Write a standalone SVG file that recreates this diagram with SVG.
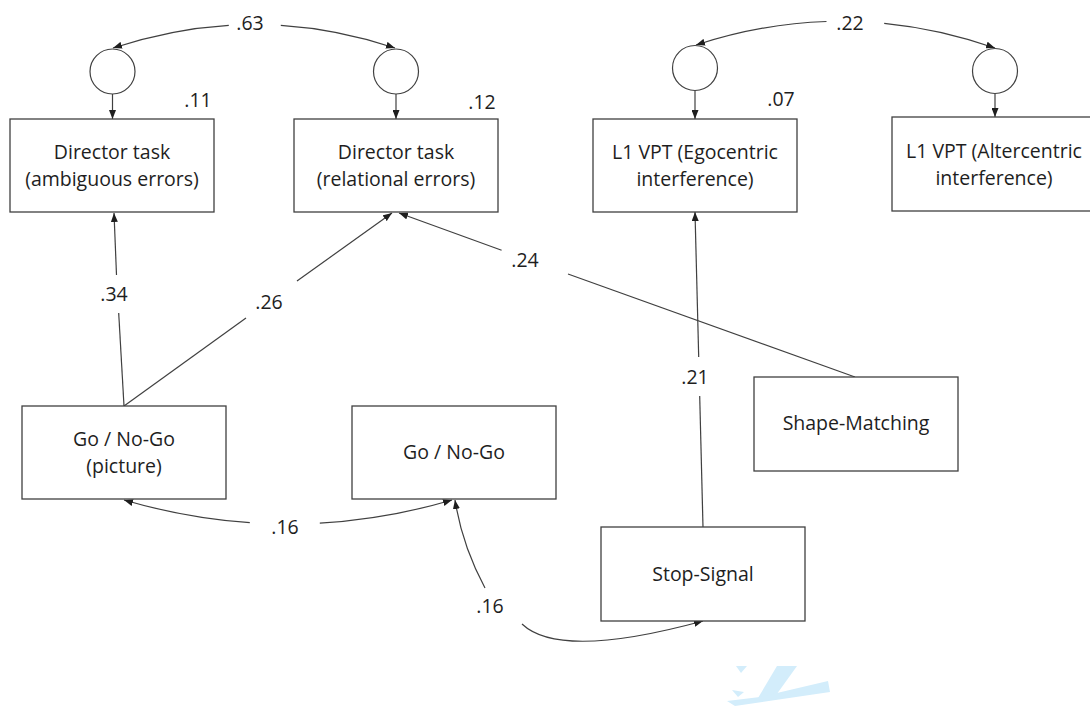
<svg xmlns="http://www.w3.org/2000/svg" width="1090" height="706" viewBox="0 0 1090 706">
<style>
.box{fill:#ffffff;stroke:#404040;stroke-width:1.3}
.circ{fill:#ffffff;stroke:#404040;stroke-width:1.2}
.t{font-family:"Open Sans","Liberation Sans",sans-serif;font-size:19.5px;fill:#1e1e1e;text-anchor:middle}
.c{fill:none;stroke:#404040;stroke-width:1.2}
.wm{fill:#d3edfb}
</style>
<defs>
<marker id="ah" viewBox="0 0 9 7" refX="9" refY="3.5" markerWidth="9" markerHeight="7" markerUnits="userSpaceOnUse" orient="auto">
<path d="M0,0 L9,3.5 L0,7 z" fill="#1e1e1e"/>
</marker>
</defs>
<rect width="1090" height="706" fill="#ffffff"/>

<g id="watermark">
<polygon class="wm" points="736,666 747,666 741,673"/>
<polygon class="wm" points="777,666 797,666 774,698 758,698"/>
<polygon class="wm" points="727,701 760,697 828,681 830,692 735,706"/>
<polygon class="wm" points="732,690 744,692 738,697"/>
</g>

<g id="connectors">
<line class="c" x1="112.5" y1="94" x2="112.5" y2="119" marker-end="url(#ah)"/>
<line class="c" x1="396" y1="94" x2="396" y2="119" marker-end="url(#ah)"/>
<line class="c" x1="695" y1="90.5" x2="695" y2="119" marker-end="url(#ah)"/>
<line class="c" x1="995" y1="93.5" x2="995" y2="117" marker-end="url(#ah)"/>
<path class="c" d="M228.8,25.3 Q170.8,28.9 113,48" marker-end="url(#ah)"/>
<path class="c" d="M280.8,25.4 Q338.3,29.1 395,48" marker-end="url(#ah)"/>
<path class="c" d="M826.5,21.5 Q761.4,23.6 696,45" marker-end="url(#ah)"/>
<path class="c" d="M884.2,23.3 Q939.7,28.7 995,48" marker-end="url(#ah)"/>
<line class="c" x1="124" y1="406" x2="118.7" y2="313"/>
<line class="c" x1="116.5" y1="275" x2="114" y2="213" marker-end="url(#ah)"/>
<line class="c" x1="124" y1="406" x2="246" y2="318"/>
<line class="c" x1="297" y1="281" x2="392" y2="213" marker-end="url(#ah)"/>
<line class="c" x1="855" y1="377" x2="568" y2="274"/>
<line class="c" x1="501.6" y1="250.2" x2="399" y2="213" marker-end="url(#ah)"/>
<line class="c" x1="703" y1="527" x2="699.7" y2="396"/>
<line class="c" x1="698.7" y1="357" x2="695" y2="212" marker-end="url(#ah)"/>
<path class="c" d="M249.8,522.7 Q186.8,518.4 124,500" marker-end="url(#ah)"/>
<path class="c" d="M319.8,523.1 Q386.3,519.4 452,500" marker-end="url(#ah)"/>
<path class="c" d="M485,588 Q462,545 455,500" marker-end="url(#ah)"/>
<path class="c" d="M522,624 Q560,660 703,621" marker-end="url(#ah)"/>
</g>

<g id="e1"><circle class="circ" cx="112.5" cy="71.5" r="22.5"/></g>
<g id="e2"><circle class="circ" cx="396" cy="71.5" r="22.5"/></g>
<g id="e3"><circle class="circ" cx="695" cy="68" r="22.5"/></g>
<g id="e4"><circle class="circ" cx="995" cy="71" r="22.5"/></g>

<g id="dir-amb">
<rect class="box" x="10" y="119" width="204" height="93"/>
<text class="t" x="112" y="159">Director task</text>
<text class="t" x="112" y="186">(ambiguous errors)</text>
</g>
<g id="dir-rel">
<rect class="box" x="294" y="119" width="204" height="93"/>
<text class="t" x="396" y="159">Director task</text>
<text class="t" x="396" y="186">(relational errors)</text>
</g>
<g id="l1-ego">
<rect class="box" x="593" y="119" width="204" height="93"/>
<text class="t" x="695" y="159">L1 VPT (Egocentric</text>
<text class="t" x="695" y="186">interference)</text>
</g>
<g id="l1-alt">
<rect class="box" x="892" y="117" width="204" height="94"/>
<text class="t" x="994" y="157.5">L1 VPT (Altercentric</text>
<text class="t" x="994" y="184.5">interference)</text>
</g>
<g id="gng-pic">
<rect class="box" x="22" y="406" width="204" height="93"/>
<text class="t" x="124" y="446">Go / No-Go</text>
<text class="t" x="124" y="473">(picture)</text>
</g>
<g id="gng">
<rect class="box" x="352" y="406" width="204" height="93"/>
<text class="t" x="454" y="459">Go / No-Go</text>
</g>
<g id="shape">
<rect class="box" x="754" y="377" width="204" height="94"/>
<text class="t" x="856" y="430">Shape-Matching</text>
</g>
<g id="stop">
<rect class="box" x="601" y="527" width="204" height="94"/>
<text class="t" x="703" y="581">Stop-Signal</text>
</g>

<g id="labels">
<text class="t" x="250" y="30">.63</text>
<text class="t" x="850" y="30">.22</text>
<text class="t" x="198" y="107">.11</text>
<text class="t" x="482" y="109">.12</text>
<text class="t" x="781" y="106">.07</text>
<text class="t" x="114" y="301">.34</text>
<text class="t" x="269" y="309">.26</text>
<text class="t" x="525" y="267">.24</text>
<text class="t" x="695" y="384">.21</text>
<text class="t" x="285" y="534">.16</text>
<text class="t" x="490" y="613">.16</text>
</g>
</svg>
